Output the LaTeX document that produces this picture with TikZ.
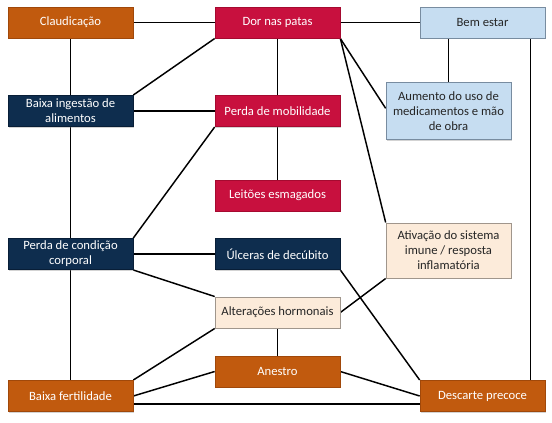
\documentclass[tikz,border=0pt]{standalone}
\usepackage{fontspec}
\setmainfont{Carlito}
\usetikzlibrary{shadows,backgrounds}
\definecolor{corange}{RGB}{193,90,14}
\definecolor{corangeb}{RGB}{160,72,10}
\definecolor{ccrimson}{RGB}{200,16,62}
\definecolor{ccrimsonb}{RGB}{165,10,48}
\definecolor{cnavy}{RGB}{14,45,78}
\definecolor{cnavyb}{RGB}{8,30,55}
\definecolor{clblue}{RGB}{198,221,241}
\definecolor{clblueb}{RGB}{120,140,160}
\definecolor{ccream}{RGB}{252,235,218}
\definecolor{ccreamb}{RGB}{160,150,140}
\tikzset{
  box/.style={rectangle, minimum width=93.75pt, minimum height=23.5pt, align=center,
    font=\fontsize{9.5}{11.2}\selectfont, inner sep=2pt, line width=0.5pt,
    drop shadow={opacity=0.35, shadow xshift=0.8pt, shadow yshift=-0.8pt}},
  orangebox/.style={box, fill=corange, draw=corangeb, text=white},
  redbox/.style={box, fill=ccrimson, draw=ccrimsonb, text=white},
  navybox/.style={box, fill=cnavy, draw=cnavyb, text=white},
  bluebox/.style={box, fill=clblue, draw=clblueb, text=black!85},
  creambox/.style={box, fill=ccream, draw=ccreamb, text=black!85},
  link/.style={line width=1.1pt, black}
}
\begin{document}
\begin{tikzpicture}[x=0.75pt,y=-0.75pt]
\useasboundingbox (0,0) rectangle (552,422);
\node[orangebox] (cla) at (70.5,22.5) {Claudicação};
\node[redbox] (dor) at (277.5,22.5) {Dor nas patas};
\node[bluebox] (bem) at (482.5,22.5) {Bem estar};
\node[navybox] (bi) at (70.5,111) {Baixa ingestão de\\alimentos};
\node[redbox] (pm) at (277.5,111) {Perda de mobilidade};
\node[bluebox, minimum height=43pt] (aum) at (448.5,111) {Aumento do uso de\\medicamentos e mão\\de obra};
\node[redbox] (lei) at (277.5,195.5) {Leitões esmagados};
\node[navybox] (pc) at (70.5,254) {Perda de condição\\corporal};
\node[navybox] (ulc) at (277.5,254) {Úlceras de decúbito};
\node[creambox, minimum height=41.5pt] (ati) at (448.5,250.5) {Ativação do sistema\\imune / resposta\\inflamatória};
\node[creambox] (alt) at (277.5,312.5) {Alterações hormonais};
\node[orangebox] (ane) at (277.5,371.5) {Anestro};
\node[orangebox] (bf) at (70.5,396) {Baixa fertilidade};
\node[orangebox] (des) at (482.5,396) {Descarte precoce};
\begin{scope}[on background layer]
\draw[link] (cla) -- (dor);
\draw[link] (dor) -- (bem);
\draw[link] (cla) -- (bi);
\draw[link] (bi) -- (pc);
\draw[link] (pc) -- (bf);
\draw[link] (bi.north east) -- (dor.south west);
\draw[link] (bi) -- (pm);
\draw[link] (dor) -- (pm);
\draw[link] (pm) -- (lei);
\draw[link] (dor.south east) -- ([yshift=2pt]aum.west);
\draw[link] (dor.south east) -- (ati.north west);
\draw[link] (pm.south west) -- (pc.north east);
\draw[link] (pc) -- (ulc);
\draw[link] (pc.south east) -- (alt.north west);
\draw[link] (alt.east) -- (ati.south west);
\draw[link] (alt.south west) -- (bf.north east);
\draw[link] (alt) -- (ane);
\draw[link] (ane.west) -- (bf.east);
\draw[link] (ane.east) -- (des.west);
\draw[link] (ulc.south east) -- (des.north west);
\draw[link] ([yshift=-6pt]bf.east) -- ([yshift=-6pt]des.west);
\draw[link] (aum.north) -- (aum.north |- bem.south);
\draw[link] ([xshift=36pt]bem.south) -- ([xshift=36pt]des.north);
\end{scope}
\end{tikzpicture}
\end{document}
